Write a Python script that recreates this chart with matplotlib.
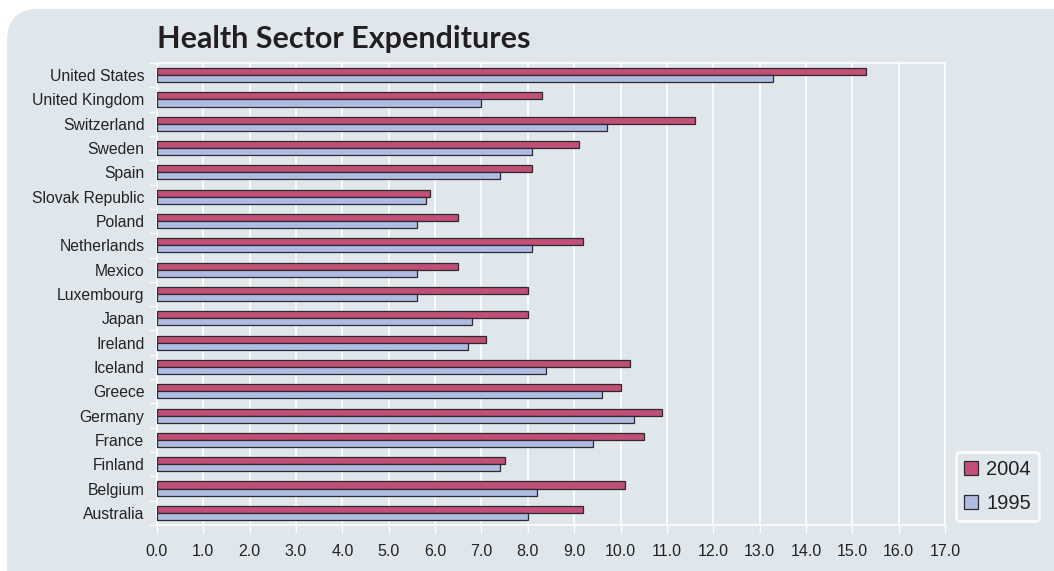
import matplotlib
matplotlib.use("Agg")
import matplotlib.pyplot as plt
import numpy as np
from matplotlib.patches import FancyBboxPatch

countries = ["United States", "United Kingdom", "Switzerland", "Sweden", "Spain",
             "Slovak Republic", "Poland", "Netherlands", "Mexico", "Luxembourg",
             "Japan", "Ireland", "Iceland", "Greece", "Germany", "France",
             "Finland", "Belgium", "Australia"]
v2004 = [15.3, 8.3, 11.6, 9.1, 8.1, 5.9, 6.5, 9.2, 6.5, 8.0,
         8.0, 7.1, 10.2, 10.0, 10.9, 10.5, 7.5, 10.1, 9.2]
v1995 = [13.3, 7.0, 9.7, 8.1, 7.4, 5.8, 5.6, 8.1, 5.6, 5.6,
         6.8, 6.7, 8.4, 9.6, 10.3, 9.4, 7.4, 8.2, 8.0]
xticks = np.arange(0, 17.5, 1.0)
title = "Health Sector Expenditures"

BG = "#E0E7EC"
RED = "#C24F78"
BLUE = "#AEBBE2"
EDGE = "#2a2a2a"
TXT = "#222222"

W, H = 1054, 571
fig = plt.figure(figsize=(W / 100, H / 100), dpi=100)
fig.patch.set_facecolor("white")

bg = FancyBboxPatch((7 / W, -0.1), 1.2, 1.1 - 9 / H,
                    boxstyle="round,pad=0,rounding_size=0.03",
                    transform=fig.transFigure, facecolor=BG, edgecolor="none",
                    mutation_aspect=W / H, zorder=-10)
fig.patches.append(bg)

left, right = 157 / W, 945 / W
top, bottom = 1 - 63 / H, 1 - 525 / H
ax = fig.add_axes([left, bottom, right - left, top - bottom], zorder=1)
ax.set_facecolor(BG)

n = len(countries)
pos = np.arange(n)[::-1]
h = 0.29
ax.barh(pos + h / 2, v2004, height=h, color=RED, edgecolor=EDGE, linewidth=0.9,
        label="2004", zorder=3)
ax.barh(pos - h / 2, v1995, height=h, color=BLUE, edgecolor=EDGE, linewidth=0.9,
        label="1995", zorder=3)

ax.set_xlim(0, 17)
ax.set_ylim(-0.5, n - 0.5)
ax.set_xticks(xticks)
ax.set_xticklabels([f"{t:.1f}" for t in xticks], fontsize=11.5, color=TXT,
                   family="Liberation Sans")
ax.set_yticks(pos)
ax.set_yticklabels(countries, fontsize=11.3, color=TXT, family="Liberation Sans")
ax.set_yticks(np.arange(-0.5, n, 1.0), minor=True)
ax.tick_params(axis="y", which="major", length=0, pad=9)
ax.tick_params(axis="y", which="minor", length=6, color="white", width=1)
ax.tick_params(axis="x", length=6, color="white", width=1, pad=8)
ax.grid(axis="x", color="white", linewidth=1.2, zorder=1)
ax.set_axisbelow(True)
for s in ax.spines.values():
    s.set_color("white")
    s.set_linewidth(1.2)

fig.text(157 / W, 1 - 48 / H, title, fontsize=22, fontweight="bold",
         family="Lato", color="#231f20", ha="left", va="baseline")

leg = fig.legend(loc="upper left", bbox_to_anchor=(956 / W, 1 - 452 / H),
                 borderaxespad=0, frameon=True,
                 handlelength=0.7, handleheight=0.7, handletextpad=0.4,
                 labelspacing=0.75, borderpad=0.4, fancybox=True,
                 prop={"family": "Liberation Sans", "size": 14.5})
leg.get_frame().set_facecolor(BG)
leg.get_frame().set_edgecolor("white")
leg.get_frame().set_linewidth(2)
for t in leg.get_texts():
    t.set_color(TXT)

fig.savefig("out.png", dpi=100, facecolor=fig.get_facecolor())
